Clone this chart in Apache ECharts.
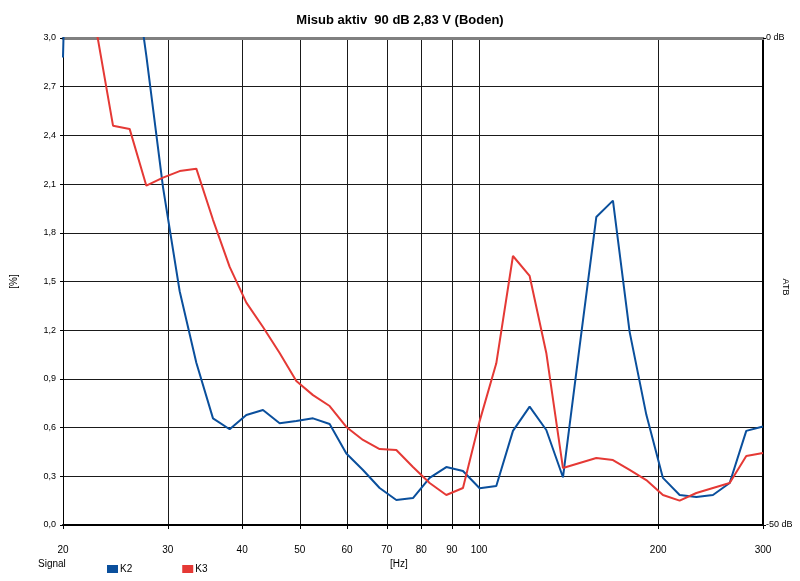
<!DOCTYPE html>
<html><head><meta charset="utf-8">
<script src="https://cdn.jsdelivr.net/npm/echarts@6/dist/echarts.min.js"></script>
<style>html,body{margin:0;padding:0;background:#fff}#c{width:800px;height:581px}</style>
</head><body><div id="c"></div>
<script>
// Frequencies (Hz)
const freqs = [20.0, 21.33, 22.75, 24.27, 25.88, 27.61, 29.45, 31.41, 33.50, 35.73,
  38.11, 40.65, 43.35, 46.24, 49.32, 52.61, 56.11, 59.85, 63.83, 68.08,
  72.62, 77.45, 82.61, 88.11, 93.98, 100.24, 106.91, 114.03, 121.63, 129.73,
  138.37, 147.58, 157.41, 167.89, 179.07, 191.0, 203.7, 217.3, 231.8, 247.2,
  263.7, 281.2, 300.0];
// K2 distortion (%)
const k2 = [2.88, 7.0, 6.0, 5.0, 3.63, 2.89, 2.08, 1.44, 1.0, 0.657,
  0.59, 0.678, 0.708, 0.627, 0.64, 0.657, 0.622, 0.44, 0.339, 0.228,
  0.154, 0.166, 0.29, 0.357, 0.333, 0.226, 0.24, 0.58, 0.729, 0.585,
  0.294, 1.10, 1.897, 1.998, 1.19, 0.68, 0.29, 0.185, 0.172, 0.185,
  0.259, 0.58, 0.607];
// K3 distortion (%)
const k3 = [3.6, 3.3, 3.05, 2.46, 2.44, 2.09, 2.14, 2.18, 2.195, 1.88,
  1.59, 1.37, 1.22, 1.06, 0.887, 0.80, 0.733, 0.604, 0.524, 0.468,
  0.462, 0.357, 0.259, 0.185, 0.228, 0.64, 0.996, 1.657, 1.534, 1.06,
  0.351, 0.382, 0.413, 0.40, 0.339, 0.277, 0.185, 0.15, 0.197, 0.228,
  0.259, 0.425, 0.444];
const xTicks = [20, 30, 40, 50, 60, 70, 80, 90, 100, 200, 300];
const seriesNames = ['K2', 'K3'];
const titleText = 'Misub aktiv  90 dB 2,83 V (Boden)';

const FONT = 'Liberation Sans, Arial, sans-serif';
const chart = echarts.init(document.getElementById('c'), null, {renderer: 'canvas'});
chart.setOption({
  animation: false,
  backgroundColor: '#fff',
  title: {
    text: titleText, left: 'center', top: 9,
    textStyle: {fontFamily: FONT, fontSize: 13, fontWeight: 'bold', color: '#000'}
  },
  legend: {
    data: seriesNames, left: 102, top: 559, itemWidth: 11, itemHeight: 8, itemGap: 50,
    icon: 'rect',
    textStyle: {fontFamily: FONT, fontSize: 10, color: '#000', padding: [0,0,0,-3]}
  },
  graphic: [
    {type: 'text', left: 38, top: 559, style: {text: 'Signal', font: '10px ' + FONT, fill: '#000'}},
    {type: 'text', left: 390, top: 559, style: {text: '[Hz]', font: '10px ' + FONT, fill: '#000'}},
    {type: 'text', x: 785, y: 287, rotation: -Math.PI / 2,
      style: {text: 'ATB', font: '9px ' + FONT, fill: '#000', align: 'center', verticalAlign: 'middle'}}
  ],
  grid: {left: 63, right: 37, top: 38, bottom: 56, containLabel: false, outerBoundsMode: 'none'},
  xAxis: [{
    type: 'log', logBase: 10, min: 20, max: 300,
    axisLine: {show: true, lineStyle: {color: '#000', width: 2}},
    axisTick: {show: true, customValues: xTicks, length: 4, inside: false, lineStyle: {color: '#000'}},
    axisLabel: {customValues: xTicks, margin: 20, fontFamily: FONT, fontSize: 10, color: '#000'},
    splitLine: {show: true, lineStyle: {color: '#1a1a1a', width: 1}},
    minorTick: {show: false}
  }, {
    type: 'log', logBase: 10, min: 20, max: 300, position: 'top',
    axisLine: {show: true, lineStyle: {color: '#808080', width: 3}},
    axisTick: {show: false}, axisLabel: {show: false}, splitLine: {show: false}
  }],
  yAxis: [{
    type: 'value', min: 0, max: 3, interval: 0.3,
    name: '[%]', nameLocation: 'middle', nameGap: 44, nameRotate: 90,
    nameTextStyle: {fontFamily: FONT, fontSize: 10, color: '#000'},
    axisLine: {show: true, lineStyle: {color: '#000', width: 1}},
    axisTick: {show: true, length: 3, lineStyle: {color: '#000'}},
    axisLabel: {margin: 7, fontFamily: FONT, fontSize: 9, color: '#000',
      formatter: v => v.toFixed(1).replace('.', ',')},
    splitLine: {show: true, lineStyle: {color: '#1a1a1a', width: 1}}
  }, {
    type: 'value', min: -50, max: 0, interval: 50, position: 'right',
    axisLine: {show: true, lineStyle: {color: '#000', width: 2}},
    axisTick: {show: true, length: 3, inside: false, lineStyle: {color: '#000'}},
    axisLabel: {margin: 3, fontFamily: FONT, fontSize: 9, color: '#000',
      formatter: v => v + ' dB'},
    splitLine: {show: false}
  }],
  series: [{
    name: seriesNames[0], type: 'line', data: freqs.map((f, i) => [f, k2[i]]),
    showSymbol: false, clip: true, color: '#0a4f9c',
    lineStyle: {width: 2, color: '#0a4f9c'}
  }, {
    name: seriesNames[1], type: 'line', data: freqs.map((f, i) => [f, k3[i]]),
    showSymbol: false, clip: true, color: '#e53935',
    lineStyle: {width: 2, color: '#e53935'}
  }]
});
</script></body></html>
